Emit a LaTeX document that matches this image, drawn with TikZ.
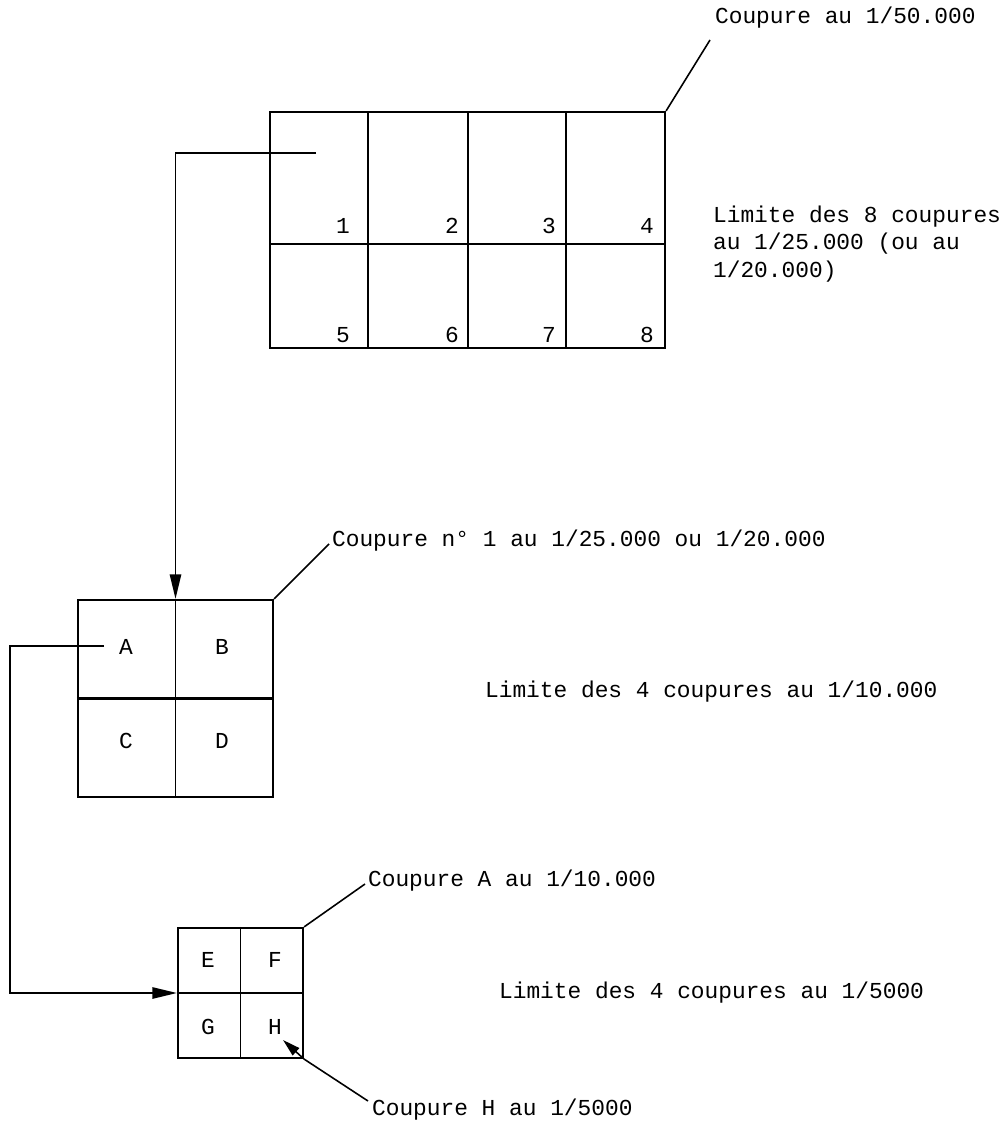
\documentclass[tikz,border=0pt]{standalone}
\usepackage{fontspec}
\setmonofont{Liberation Mono}
\usetikzlibrary{arrows.meta, positioning}

\begin{document}
\begin{tikzpicture}[x=0.02cm, y=-0.02cm,
    every node/.style={font=\ttfamily\fontsize{13}{15.5}\selectfont},
    frame/.style={draw, line width=1.3pt, inner sep=0pt},
    divide/.style={line width=0.9pt},
    link/.style={line width=0.9pt, -{Triangle[length=14pt, width=6.5pt]}},
    leader/.style={line width=0.9pt},
    lbl/.style={anchor=west, inner sep=1pt}]
    \path[use as bounding box] (0,0) rectangle (1004,1121);

    % Coupure au 1/50.000 (8 sheets)
    \node[frame, minimum width=7.9cm, minimum height=4.72cm] (big) at (467.5,230) {};
    \draw[line width=1.3pt] (270,244) -- (665,244);
    \foreach \x in {368,468,566}
        \draw[divide] (\x,112) -- (\x,348);
    \foreach \n/\x in {1/343,2/452,3/549,4/647}
        \node (n\n) at (\x,226) {\n};
    \foreach \n/\x in {5/343,6/452,7/549,8/647}
        \node (n\n) at (\x,335) {\n};

    \node[lbl] (c50) at (713,18) {Coupure au 1/50.000};
    \coordinate (c50end) at (710,40);
    \draw[leader] (big.north east) -- (c50end);
    \node[lbl, anchor=north west, align=left] (lim8) at (711,204)
        {Limite des 8 coupures\\au 1/25.000 (ou au\\1/20.000)};

    % Coupure n 1 (4 sheets)
    \node[frame, minimum width=3.9cm, minimum height=3.94cm] (mid) at (175.5,698.5) {};
    \draw[line width=1.3pt] (mid.west) -- (mid.east);
    \draw[divide] (mid.north) -- (mid.south);
    \node (sA) at (126,647) {A};
    \node (sB) at (222,647) {B};
    \node (sC) at (126,741) {C};
    \node (sD) at (222,741) {D};

    \node[lbl] (c1) at (330,541) {Coupure n° 1 au 1/25.000 ou 1/20.000};
    \coordinate (c1end) at (329,544);
    \draw[leader] (mid.north east) -- (c1end);
    \node[lbl] (lim4a) at (483,692) {Limite des 4 coupures au 1/10.000};

    % Coupure A (4 sheets)
    \node[frame, minimum width=2.5cm, minimum height=2.6cm] (small) at (240.5,993) {};
    \draw[line width=1.3pt] (small.west) -- (small.east);
    \draw[divide] (small.north) -- (small.south);
    \node (sE) at (208,960) {E};
    \node (sF) at (275,960) {F};
    \node (sG) at (208,1027) {G};
    \node (sH) at (275,1027) {H};

    \node[lbl] (cA) at (366,881) {Coupure A au 1/10.000};
    \coordinate (cAend) at (365,884);
    \draw[leader] (small.north east) -- (cAend);
    \node[lbl] (lim4b) at (497,993) {Limite des 4 coupures au 1/5000};

    \node[lbl] (cH) at (370,1110) {Coupure H au 1/5000};
    \coordinate (cHend) at (368,1101);
    \coordinate (tipH) at (283,1040);
    \draw[leader] (cHend) -- (small.south east);
    \draw[leader, -{Triangle[length=10pt, width=5.5pt]}] (small.south east) -- (tipH);

    % links between scales
    \coordinate (from1) at (316,153);
    \draw[link] (from1) -| (mid.north);
    \coordinate (fromA) at (104,646);
    \coordinate (turnA) at (10,646);
    \draw[link] (fromA) -- (turnA) |- (small.west);
\end{tikzpicture}
\end{document}
